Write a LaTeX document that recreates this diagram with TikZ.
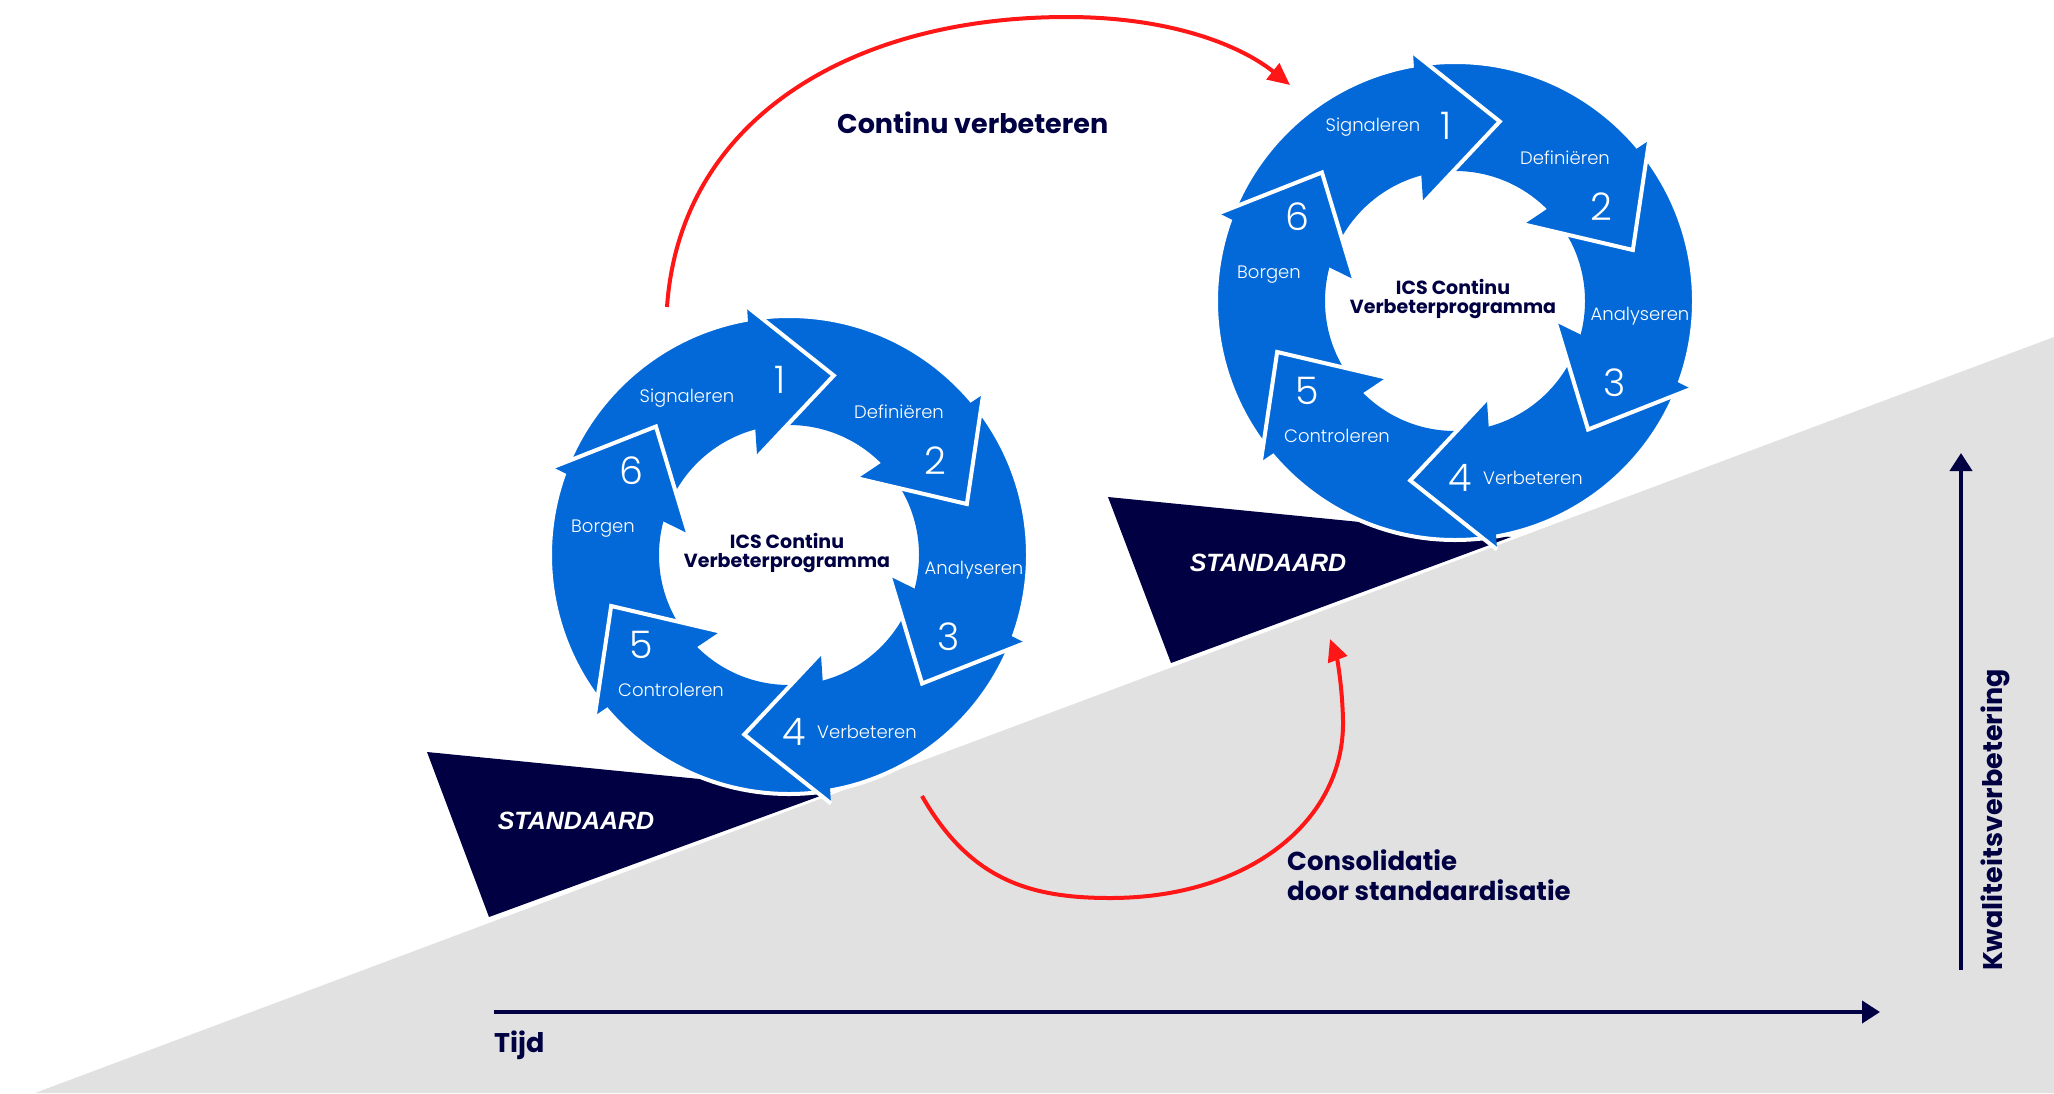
\documentclass[tikz,border=0pt]{standalone}
\usepackage{fontspec}
\setmainfont{Poppins}
\newfontfamily\dunfont{Poppins Light}
\newfontfamily\stdfont{Liberation Sans}
\usetikzlibrary{arrows.meta,positioning}

\definecolor{icsblauw}{RGB}{3,105,216}
\definecolor{icsnavy}{RGB}{0,0,66}
\definecolor{icsgrijs}{RGB}{225,225,225}
\definecolor{icsrood}{RGB}{255,22,22}

\tikzset{
  stap/.style={text=white, inner sep=0pt, font=\dunfont\fontsize{18}{20}\selectfont},
  nummer/.style={text=white, inner sep=0pt, font=\dunfont\fontsize{38}{40}\selectfont},
  midden/.style={text=icsnavy, inner sep=0pt, font=\bfseries\fontsize{19}{22}\selectfont},
  kop/.style={text=icsnavy, inner sep=0pt, font=\bfseries\fontsize{27}{30}\selectfont},
  kopklein/.style={kop, font=\bfseries\fontsize{26}{30}\selectfont},
  standaard/.style={text=white, inner sep=0pt, font=\stdfont\bfseries\itshape\fontsize{25}{28}\selectfont},
  pijlkop/.style={fill=icsblauw, draw=white, line width=4pt, line join=miter},
  as/.style={draw=icsnavy, line width=4pt, -{Triangle[length=18pt,width=22pt]}},
  boog/.style={draw=icsrood, line width=4pt, -{Triangle[length=22pt,width=20pt]}}
}

% een kringloop: #1 naam, #2 middelpunt, #3 plaats van Signaleren
\newcommand{\icscirkel}[3]{%
  \begin{scope}[shift={#2}]
    \fill[icsblauw, even odd rule] (0,0) circle (239) (0,0) circle (130);
    \draw[white, line width=4pt] (0,0) circle (239);
    \foreach \nr [evaluate=\nr as \hoek using 60*\nr-136] in {1,...,6}
      \filldraw[pijlkop] (\hoek-23.6:252) -- (\hoek:185) -- (\hoek-32:103);
    \node[stap] (#1-sig) at #3 {Signaleren};
    \node[nummer] (#1-n1) at (-9,-175) {1};
    \node[stap] (#1-def) at (110,-143) {Definiëren};
    \node[nummer] (#1-n2) at (146,-94) {2};
    \node[stap] (#1-ana) at (185,15) {Analyseren};
    \node[nummer] (#1-n3) at (160,82) {3};
    \node[nummer] (#1-n4) at (5,177) {4};
    \node[stap] (#1-vbt) at (78,177) {Verbeteren};
    \node[nummer] (#1-n5) at (-148,90) {5};
    \node[stap] (#1-con) at (-118,135) {Controleren};
    \node[nummer] (#1-n6) at (-158,-84) {6};
    \node[stap] (#1-bor) at (-186,-26) {Borgen};
    \node[midden] (#1-ics) at (-2,-14) {ICS Continu};
    \node[midden] (#1-vbp) at (-2,8) {Verbeterprogramma};
  \end{scope}}

\begin{document}
\begin{tikzpicture}[x=1pt, y=-1pt]
  \useasboundingbox (0,0) rectangle (2054,1093);
  % grijze helling
  \fill[icsgrijs] (35,1093) -- (2054,337) -- (2054,1093) -- cycle;

  % standaarden
  \fill[icsnavy] (427,752) -- (831,792) -- (489,917) -- cycle;
  \fill[icsnavy] (1108,497) -- (1511,537) -- (1171,663) -- cycle;
  \node[standaard] (std-a) at (576,821) {STANDAARD};
  \node[standaard] (std-b) at (1268,563) {STANDAARD};

  % kringlopen
  \icscirkel{ca}{(789,555)}{(-102,-157)}
  \icscirkel{cb}{(1455,301)}{(-82,-174)}

  % continu verbeteren
  \coordinate (cv-start) at (667,307);
  \coordinate (cv-eind) at (1290,85);
  \draw[boog] (cv-start) .. controls (680,120) and (850,17) .. (1067,17)
    .. controls (1170,17) and (1240,45) .. (cv-eind);
  \node[kop, anchor=base west] (cv) at (837,133) {Continu verbeteren};

  % consolidatie
  \coordinate (cs-start) at (922,796);
  \coordinate (cs-eind) at (1330,639);
  \draw[boog] (cs-start) .. controls (970,880) and (1030,898) .. (1110,898)
    .. controls (1250,898) and (1345,820) .. (1343,720)
    .. controls (1342,680) and (1336,655) .. (cs-eind);
  \node[kopklein, anchor=base west] (cs1) at (1287,870) {Consolidatie};
  \node[kopklein, anchor=base west] (cs2) at (1287,900) {door standaardisatie};

  % assen
  \coordinate (tijd-0) at (494,1012);
  \coordinate (tijd-1) at (1880,1012);
  \draw[as] (tijd-0) -- (tijd-1);
  \node[kop, anchor=base west] (tijd) at (494,1052) {Tijd};
  \coordinate (kw-0) at (1961,970);
  \coordinate (kw-1) at (1961,453);
  \draw[as] (kw-0) -- (kw-1);
  \node[kop, rotate=90] (kw) at (1995,820) {Kwaliteitsverbetering};
\end{tikzpicture}
\end{document}
